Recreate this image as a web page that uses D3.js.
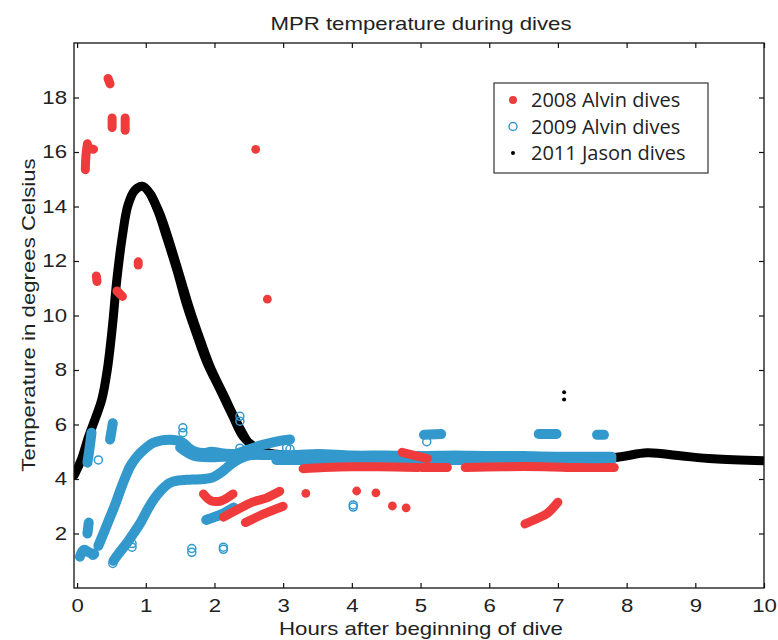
<!DOCTYPE html>
<html>
<head>
<meta charset="utf-8">
<script src="https://cdn.jsdelivr.net/npm/d3@7"></script>
<style>
  body { margin: 0; background: #fff; }
  .axis text { font-family: "Liberation Sans", Arial, sans-serif; font-size: 18.5px; fill: #222; }
  .axis path, .axis line { stroke: #111; stroke-width: 1.2; }
</style>
</head>
<body>
<div id="main"></div>
<script>
!(function () {
  'use strict';

  // tick labels
  const xTicks = [0, 1, 2, 3, 4, 5, 6, 7, 8, 9, 10];
  const yTicks = [2, 4, 6, 8, 10, 12, 14, 16, 18];

  // 2011 Jason dives (dense traces + stray dots)
  const jasonCurve = [
    [-0.04, 4.15], [0.06, 4.7], [0.16, 5.5], [0.26, 6.18], [0.36, 6.92], [0.44, 8.01], [0.51, 9.5],
    [0.58, 11.35], [0.66, 12.93], [0.74, 14.04], [0.84, 14.59], [0.95, 14.74], [1.06, 14.48],
    [1.18, 13.82], [1.31, 12.82], [1.46, 11.61], [1.6, 10.35], [1.75, 9.24], [1.89, 8.28],
    [2.08, 7.29], [2.27, 6.29], [2.42, 5.55], [2.6, 5.15], [2.8, 4.95], [3.2, 4.85], [4.5, 4.82],
    [6.0, 4.8], [7.79, 4.78], [8.3, 4.96], [8.78, 4.85], [9.26, 4.74], [10.0, 4.67]
  ];
  const jasonCurve2 = [
    [1.08, 14.4], [1.21, 13.7], [1.35, 12.65], [1.5, 11.4], [1.65, 10.15], [1.8, 9.05],
    [1.94, 8.1], [2.13, 7.1], [2.32, 6.1], [2.46, 5.45]
  ];
  const jasonDots = [[7.09, 7.18], [7.09, 6.92]];

  // 2009 Alvin dives
  const alvin2009Traces = [
    [[0.31, 1.55], [0.4, 2.1], [0.48, 2.6], [0.56, 3.1], [0.63, 3.6], [0.7, 4.05], [0.77, 4.45],
     [0.85, 4.75], [0.92, 4.95], [1.02, 5.18], [1.11, 5.33], [1.23, 5.42], [1.35, 5.44], [1.45, 5.42],
     [1.54, 5.33], [1.62, 5.15], [1.72, 5.0], [1.85, 4.95], [1.95, 5.0], [2.1, 4.95], [2.25, 4.92], [2.4, 4.9]],
    [[1.5, 5.15], [1.7, 4.85], [2.0, 4.8], [2.3, 4.85]],
    [[0.53, 1.0], [0.6, 1.25], [0.72, 1.63], [0.82, 2.0], [0.92, 2.38], [1.02, 2.85], [1.11, 3.23],
     [1.22, 3.58], [1.35, 3.86], [1.48, 3.95], [1.6, 3.97], [1.84, 4.0], [1.96, 4.05], [2.04, 4.15],
     [2.15, 4.35], [2.23, 4.52], [2.35, 4.72], [2.47, 4.85], [2.6, 4.9]],
    [[2.2, 4.8], [2.45, 5.05], [2.7, 5.25], [2.95, 5.4], [3.1, 5.45]],
    [[2.4, 4.9], [2.8, 4.88], [3.2, 4.88], [3.5, 4.92], [4.0, 4.86], [4.5, 4.86], [5.0, 4.84],
     [5.5, 4.86], [6.0, 4.84], [6.5, 4.84], [7.0, 4.82], [7.5, 4.82], [7.78, 4.82]],
    [[2.9, 4.7], [3.5, 4.7], [4.5, 4.7], [5.5, 4.7], [6.5, 4.7], [7.78, 4.7]],
    [[0.15, 4.6], [0.18, 5.1], [0.21, 5.7]],
    [[0.48, 5.45], [0.5, 5.75], [0.52, 6.05]],
    [[0.15, 2.0], [0.17, 2.4]],
    [[0.04, 1.15], [0.1, 1.4], [0.18, 1.3], [0.25, 1.25]],
    [[1.88, 2.5], [2.1, 2.7], [2.28, 2.95]],
    [[5.05, 5.62], [5.3, 5.65]],
    [[6.72, 5.65], [6.98, 5.65]],
    [[7.57, 5.62], [7.67, 5.62]]
  ];
  const alvin2009Points = [
    [0.31, 4.7], [0.8, 1.5], [0.8, 1.63], [0.52, 0.9], [1.54, 5.88], [1.54, 5.7], [1.67, 1.31],
    [1.67, 1.45], [2.13, 1.5], [2.13, 1.42], [2.37, 6.3], [2.37, 6.12], [2.37, 5.13], [4.02, 2.97],
    [4.02, 3.05], [5.09, 5.37], [0.23, 1.2], [3.1, 5.1], [3.05, 5.15]
  ];

  // 2008 Alvin dives
  const alvin2008Traces = [
    [[0.12, 15.35], [0.13, 15.9], [0.15, 16.3]],
    [[0.15, 16.15], [0.24, 16.1]],
    [[0.45, 18.7], [0.48, 18.5]],
    [[0.51, 17.25], [0.51, 16.9]],
    [[0.7, 17.25], [0.7, 16.8]],
    [[0.28, 11.45], [0.29, 11.25]],
    [[0.89, 11.97], [0.89, 11.85]],
    [[0.58, 10.9], [0.66, 10.7]],
    [[1.84, 3.45], [1.95, 3.2], [2.1, 3.2], [2.27, 3.45]],
    [[2.13, 2.6], [2.35, 2.9], [2.55, 3.15], [2.75, 3.3], [2.95, 3.55]],
    [[2.45, 2.4], [2.7, 2.7], [3.0, 3.0]],
    [[3.29, 4.38], [3.6, 4.42], [4.0, 4.45], [4.4, 4.45], [4.96, 4.42]],
    [[5.02, 4.42], [5.39, 4.42]],
    [[5.65, 4.42], [6.2, 4.45], [6.8, 4.45], [7.3, 4.42], [7.82, 4.42]],
    [[4.73, 4.98], [5.1, 4.75]],
    [[6.52, 2.35], [6.7, 2.55], [6.85, 2.75], [7.0, 3.15]]
  ];
  const alvin2008Points = [
    [2.6, 16.1], [2.77, 10.6], [3.33, 3.47], [4.07, 3.56], [4.35, 3.49], [4.59, 3.01], [4.79, 2.94]
  ];

  const legendLabels = ['2008 Alvin dives', '2009 Alvin dives', '2011 Jason dives'];

  // canvas
  const canvas = {
    width: 778,
    height: 640,
    padding: { top: 43, right: 14, bottom: 52, left: 74 }
  };
  const red = '#ef3b3c', blue = '#3399cc';
  const plotRight = canvas.width - canvas.padding.right;
  const plotBottom = canvas.height - canvas.padding.bottom;
  const stretch = 1.2; // original lettering is wider than Helvetica

  const svg = d3.select('#main').append('svg')
    .attr('width', canvas.width)
    .attr('height', canvas.height);

  const xScale = d3.scaleLinear().domain([-0.045, 10]).range([canvas.padding.left, plotRight]);
  const yScale = d3.scaleLinear().domain([0, 20]).range([plotBottom, canvas.padding.top]);

  svg.append('clipPath').attr('id', 'plotclip').append('rect')
    .attr('x', canvas.padding.left).attr('y', canvas.padding.top)
    .attr('width', plotRight - canvas.padding.left).attr('height', plotBottom - canvas.padding.top);

  const line = d3.line().x(d => xScale(d[0])).y(d => yScale(d[1])).curve(d3.curveCatmullRom);
  const plot = svg.append('g').attr('clip-path', 'url(#plotclip)');

  function traces(sel, data, color, width) {
    sel.selectAll(null).data(data).enter().append('path')
      .attr('d', line).attr('fill', 'none').attr('stroke', color)
      .attr('stroke-width', width).attr('stroke-linecap', 'round').attr('stroke-linejoin', 'round');
  }

  // black first, then blue, red on top
  traces(plot, [jasonCurve], '#000', 9);
  traces(plot, [jasonCurve2], '#000', 9);
  plot.selectAll(null).data(jasonDots).enter().append('circle')
    .attr('cx', d => xScale(d[0])).attr('cy', d => yScale(d[1])).attr('r', 2).attr('fill', '#000');

  traces(plot, alvin2009Traces, blue, 10);
  plot.selectAll(null).data(alvin2009Points).enter().append('circle')
    .attr('cx', d => xScale(d[0])).attr('cy', d => yScale(d[1])).attr('r', 4)
    .attr('fill', 'none').attr('stroke', blue).attr('stroke-width', 1.5);

  traces(plot, alvin2008Traces, red, 9);
  plot.selectAll(null).data(alvin2008Points).enter().append('circle')
    .attr('cx', d => xScale(d[0])).attr('cy', d => yScale(d[1])).attr('r', 4.4).attr('fill', red);

  // axes, ticks inward
  svg.append('g').attr('class', 'axis')
    .attr('transform', 'translate(0,' + plotBottom + ')')
    .call(d3.axisBottom(xScale).tickValues(xTicks).tickSizeInner(-5).tickSizeOuter(0).tickPadding(11));
  svg.append('g').attr('class', 'axis')
    .attr('transform', 'translate(0,' + canvas.padding.top + ')')
    .call(d3.axisTop(xScale).tickValues(xTicks).tickSizeInner(-5).tickSizeOuter(0).tickFormat(''));
  svg.append('g').attr('class', 'axis')
    .attr('transform', 'translate(' + canvas.padding.left + ',0)')
    .call(d3.axisLeft(yScale).tickValues(yTicks).tickSizeInner(-5).tickSizeOuter(0).tickPadding(7));
  svg.append('g').attr('class', 'axis')
    .attr('transform', 'translate(' + plotRight + ',0)')
    .call(d3.axisRight(yScale).tickValues(yTicks).tickSizeInner(-5).tickSizeOuter(0).tickFormat(''));
  svg.selectAll('.axis .domain').remove();
  svg.append('rect')
    .attr('x', canvas.padding.left).attr('y', canvas.padding.top)
    .attr('width', plotRight - canvas.padding.left).attr('height', plotBottom - canvas.padding.top)
    .attr('fill', 'none').attr('stroke', '#111').attr('stroke-width', 1.3);

  // texts
  const font = '"Liberation Sans", Arial, sans-serif';
  svg.append('text').attr('class', 'wide').attr('x', 421).attr('y', 30).attr('text-anchor', 'middle')
    .style('font-family', font).style('font-size', '18.5px').attr('fill', '#222')
    .text('MPR temperature during dives');
  svg.append('text').attr('class', 'wide').attr('x', 421).attr('y', 635).attr('text-anchor', 'middle')
    .style('font-family', font).style('font-size', '18.5px').attr('fill', '#222')
    .text('Hours after beginning of dive');
  svg.append('text').attr('class', 'wide').attr('transform', 'translate(35,315) rotate(-90)').attr('text-anchor', 'middle')
    .style('font-family', font).style('font-size', '18.5px').attr('fill', '#222')
    .text('Temperature in degrees Celsius');

  svg.selectAll('.axis text, text.wide').each(function () {
    const w = this.getComputedTextLength();
    d3.select(this).attr('textLength', w * stretch).attr('lengthAdjust', 'spacingAndGlyphs');
  });

  // legend
  const legend = svg.append('g').attr('transform', 'translate(494,83)');
  legend.append('rect').attr('width', 214).attr('height', 90)
    .attr('fill', '#fff').attr('stroke', '#333').attr('stroke-width', 1.2);
  const items = legend.selectAll('.item').data(legendLabels).enter().append('g')
    .attr('transform', (d, i) => 'translate(0,' + (17 + i * 26.5) + ')');
  items.append('circle').attr('cx', 19).attr('r', (d, i) => i === 2 ? 2 : 4)
    .attr('fill', (d, i) => i === 0 ? red : (i === 1 ? '#fff' : '#000'))
    .attr('stroke', (d, i) => i === 1 ? blue : 'none').attr('stroke-width', 1.5);
  items.append('text').attr('x', 37).attr('y', 7)
    .style('font-family', '"Open Sans", "Noto Sans", sans-serif').style('font-size', '20px').attr('fill', '#222')
    .text(d => d);
}());
</script>
</body>
</html>
